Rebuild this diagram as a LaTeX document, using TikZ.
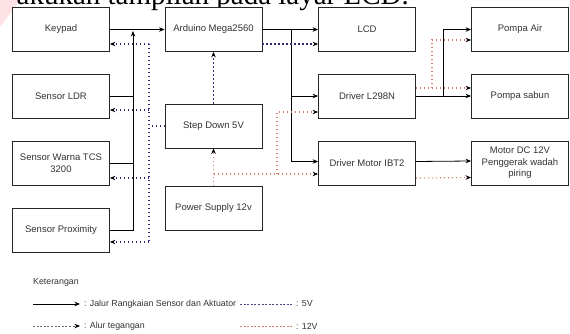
\documentclass[tikz,border=0pt]{standalone}
\usepackage{fontspec}
\setmainfont{Liberation Sans}
\newfontfamily\serifx{Liberation Serif}
\usetikzlibrary{arrows.meta}
\definecolor{txt}{RGB}{51,51,51}
\definecolor{navyd}{RGB}{45,45,125}
\definecolor{salm}{RGB}{215,125,105}
\definecolor{wmark}{RGB}{253,225,228}
\tikzset{
  blk/.style={draw=black!85, line width=0.8pt, fill=white, minimum width=97pt, minimum height=44pt,
     text=txt, font=\fontsize{9.5}{11.5}\selectfont, align=center, inner sep=1pt},
  tip/.style={-{Stealth[length=5.5pt,width=4.5pt,color=black]}},
  sig/.style={draw=black, line width=0.8pt},
  v5/.style={draw=navyd, line width=1.2pt, dash pattern=on 1.1pt off 2.9pt},
  v12/.style={draw=salm, line width=1.1pt, dash pattern=on 1.1pt off 2.9pt},
  lgtxt/.style={text=txt, font=\fontsize{8.8}{10}\selectfont, anchor=west, inner sep=0pt},
}
\begin{document}
\begin{tikzpicture}[x=1pt,y=-1pt]
\useasboundingbox (0,0) rectangle (570,334);
\clip (0,0) rectangle (570,334);
\fill[white] (0,0) rectangle (570,334);
\fill[wmark] (0,0) -- (20,0) -- (0,27) -- cycle;
\node[anchor=base east, inner sep=0pt, font=\serifx\fontsize{29}{31}\selectfont] (toptext) at (409,5) {akukan tampilan pada layar LCD.};

% boxes
\node[blk] (keypad) at (61,29.5) {Keypad};
\node[blk] (arduino) at (213.5,29.5) {Arduino Mega2560};
\node[blk] (lcd) at (367,29.5) {LCD};
\node[blk] (pair) at (520,29.5) {Pompa Air};
\node[blk] (ldr) at (61,96) {Sensor LDR};
\node[blk] (l298) at (367,96) {Driver L298N};
\node[blk] (sabun) at (520,96) {Pompa sabun};
\node[blk] (stepdown) at (213.5,126) {Step Down 5V};
\node[blk] (warna) at (61,163) {Sensor Warna TCS\\3200};
\node[blk] (ibt2) at (367,163.5) {Driver Motor IBT2};
\node[blk] (motor) at (520,163) {Motor DC 12V\\Penggerak wadah\\piring};
\node[blk] (ps) at (213.5,208) {Power Supply 12v};
\node[blk] (prox) at (61,230) {Sensor Proximity};

% solid signal lines
\coordinate (jL) at (133,29.5);
\coordinate (jR) at (291,29.5);
\coordinate (jP) at (443,96);
\draw[sig,tip] (keypad.east) -- (arduino.west);
\draw[sig,tip] (prox.east) -| ([yshift=-1.5pt]jL);
\draw[sig] (ldr.east) -- (ldr.east -| jL);
\draw[sig] (warna.east) -- (warna.east -| jL);
\draw[sig,tip] (arduino.east) -- (lcd.west);
\draw[sig,tip] (jR) |- (l298.west);
\draw[sig,tip] (jR) |- ([yshift=2pt]ibt2.west);
\draw[sig,tip] (l298.east) -- (sabun.west);
\draw[sig,tip] (jP) |- (pair.west);
\draw[sig,tip] ([yshift=2pt]ibt2.east) -- ([yshift=2pt]motor.west);

% 5V lines
\coordinate (bTop) at (149,44);
\coordinate (bBot) at (149,242);
\coordinate (kIn) at ([yshift=-14.5pt]keypad.east);
\coordinate (lIn) at ([yshift=-14pt]ldr.east);
\coordinate (wIn) at ([yshift=-15pt]warna.east);
\coordinate (pIn) at ([yshift=-12pt]prox.east);
\draw[v5] (bTop) -- (bBot);
\draw[v5] (stepdown.west) -- (stepdown.west -| bTop);
\draw[v5,tip] (kIn -| bTop) -- (kIn);
\draw[v5,tip] (lIn -| bTop) -- (lIn);
\draw[v5,tip] (wIn -| bTop) -- (wIn);
\draw[v5,tip] (pIn -| bTop) -- (pIn);
\draw[v5,tip] (stepdown.north) -- (arduino.south);
\draw[v5,tip] ([yshift=-14.5pt]arduino.east) -- ([yshift=-14.5pt]lcd.west);

% 12V lines
\coordinate (rA) at (213.5,174);
\coordinate (rB) at (277,174);
\coordinate (rC) at (432,88);
\draw[v12,tip] (ps.north) -- (stepdown.south);
\draw[v12,tip] (rA) -- ([yshift=-10.5pt]ibt2.west);
\draw[v12,tip] (rB) |- ([yshift=-16pt]l298.west);
\draw[v12,tip] ([yshift=8pt]l298.east) -- ([yshift=8pt]sabun.west);
\draw[v12,tip] (rC) |- ([yshift=-10.5pt]pair.west);
\draw[v12,tip] ([yshift=-14.5pt]ibt2.east) -- ([yshift=-14.5pt]motor.west);

% legend
\node[lgtxt] (ket) at (33,282) {Keterangan};
\coordinate (la1) at (33,304); \coordinate (lb1) at (80,304);
\coordinate (la2) at (33,326); \coordinate (lb2) at (80,326);
\coordinate (lc1) at (240,304); \coordinate (ld1) at (294,304);
\coordinate (lc2) at (240,326); \coordinate (ld2) at (294,326);
\draw[sig,tip] (la1) -- (lb1);
\node[lgtxt] (t1) at (84,304) {: Jalur Rangkaian Sensor dan Aktuator};
\draw[draw=black!60, line width=0.6pt, dash pattern=on 2pt off 1.6pt,tip] (la2) -- (lb2);
\node[lgtxt] (t2) at (84,326) {: Alur tegangan};
\draw[draw=navyd!70!gray, line width=0.6pt, dash pattern=on 2pt off 1.6pt] (lc1) -- (ld1);
\node[lgtxt] (t3) at (296,304) {: 5V};
\draw[draw=salm, line width=0.6pt, dash pattern=on 2pt off 1.6pt] (lc2) -- (ld2);
\node[lgtxt] (t4) at (296,326) {: 12V};
\end{tikzpicture}
\end{document}
